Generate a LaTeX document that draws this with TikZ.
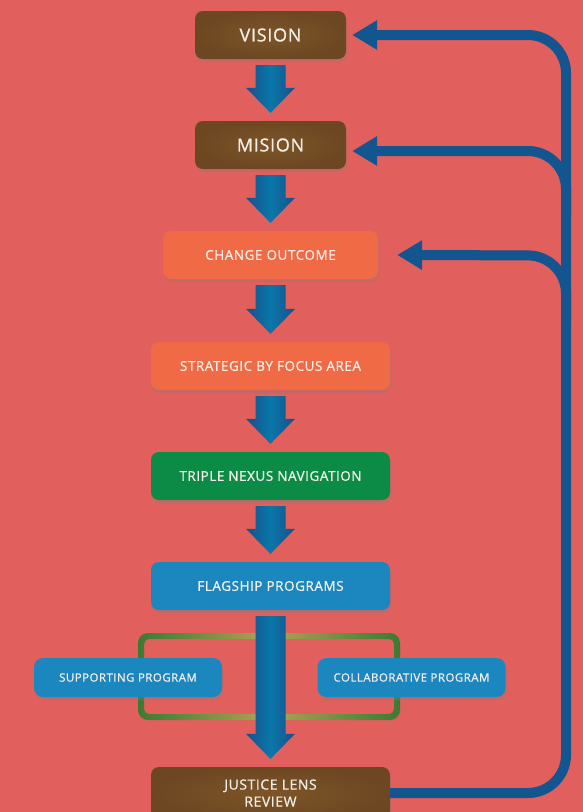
\documentclass[tikz,border=0pt]{standalone}
\usepackage{fontspec}
\setmainfont{Open Sans}
\newfontfamily\labelfont{Open Sans}[LetterSpace=4,FakeBold=0.9]
\usetikzlibrary{arrows.meta,calc,shadows}
\definecolor{bgred}{HTML}{E15F5C}
\definecolor{boxbrown}{HTML}{7D5527}
\definecolor{browndark}{HTML}{6C4722}
\definecolor{boxorange}{HTML}{F06B45}
\definecolor{boxgreen}{HTML}{0C8B47}
\definecolor{boxblue}{HTML}{1C87BF}
\definecolor{loopblue}{HTML}{12558F}
\definecolor{labelwhite}{HTML}{F3EEE8}
\definecolor{framegreen}{HTML}{3B7A33}
\definecolor{frameolive}{HTML}{AFA552}
\definecolor{flowdark}{HTML}{174F8B}
\definecolor{flowlight}{HTML}{0A78A9}

\begin{document}
\begin{tikzpicture}[x=1pt,y=-1pt,
   stage/.style={rounded corners=8pt,text=labelwhite,align=center,inner sep=0pt,
     drop shadow={opacity=0.3,shadow xshift=1pt,shadow yshift=-3pt}},
   brown stage/.style={stage,inner color=boxbrown,outer color=browndark,
     minimum width=151pt,minimum height=48pt,
     font=\labelfont\fontsize{18}{20}\selectfont},
   orange stage/.style={stage,fill=boxorange,minimum height=48pt,
     font=\labelfont\fontsize{13.5}{16}\selectfont},
   wide stage/.style={stage,minimum width=239pt,minimum height=48pt,
     font=\labelfont\fontsize{13.5}{16}\selectfont},
   side stage/.style={stage,fill=boxblue,rounded corners=9pt,minimum width=188pt,
     minimum height=39pt,font=\labelfont\fontsize{11.5}{14}\selectfont},
   flow/.style={left color=flowdark,right color=flowdark,middle color=flowlight},
   feedback/.style={draw=loopblue,line width=10pt,rounded corners=38pt,
     -{Triangle[length=25pt,width=28pt]}}]

  \useasboundingbox (0,0) rectangle (583,812);
  \fill[bgred] (0,0) rectangle (583,812);

  % frame round the two side programs
  \shade[even odd rule,left color=framegreen,right color=framegreen,middle color=frameolive]
    [rounded corners=10pt] (138,633) rectangle (400,720)
    [rounded corners=5pt] (144,639) rectangle (394,714);

  \node[brown stage] (vision) at (270.5,35) {VISION};
  \node[brown stage] (mision) at (270.5,145) {MISION};
  \node[orange stage,minimum width=215pt] (outcome) at (270.5,255) {CHANGE OUTCOME};
  \node[wide stage,fill=boxorange] (strategic) at (270.5,366) {STRATEGIC BY FOCUS AREA};
  \node[wide stage,fill=boxgreen] (nexus) at (270.5,476) {TRIPLE NEXUS NAVIGATION};
  \node[wide stage,fill=boxblue] (flagship) at (270.5,586) {FLAGSHIP PROGRAMS};
  \node[side stage] (supporting) at (128,677.5) {SUPPORTING PROGRAM};
  \node[side stage] (collaborative) at (411.5,677.5) {COLLABORATIVE PROGRAM};
  \node[brown stage,minimum width=239pt,minimum height=52pt,
    font=\labelfont\fontsize{14}{17}\selectfont] (justice) at (270.5,793) {JUSTICE LENS\\REVIEW};

  % block arrows down the chain
  \foreach \from/\to in {vision/mision,mision/outcome,outcome/strategic,
      strategic/nexus,nexus/flagship,flagship/justice}
    \path let \p1=(\from.south), \p2=(\to.north) in [flow]
      (\x1-15pt,\y1-6pt) -- (\x1+15pt,\y1-6pt) -- (\x1+15pt,\y2+33pt)
      -- (\x1+24.5pt,\y2+33pt) -- (\x1,\y2+8pt) -- (\x1-24.5pt,\y2+33pt)
      -- (\x1-15pt,\y2+33pt) -- cycle;

  % feedback loops
  \draw[feedback] (justice.east) -- (566,793) -- (566,35) -- ([xshift=6pt]vision.east);
  \draw[feedback] (566,215) -- (566,151) -- ([xshift=6pt,yshift=-6pt]mision.east);
  \draw[feedback] (566,320) -- (566,255.5) -- ([xshift=19pt]outcome.east);
\end{tikzpicture}
\end{document}
